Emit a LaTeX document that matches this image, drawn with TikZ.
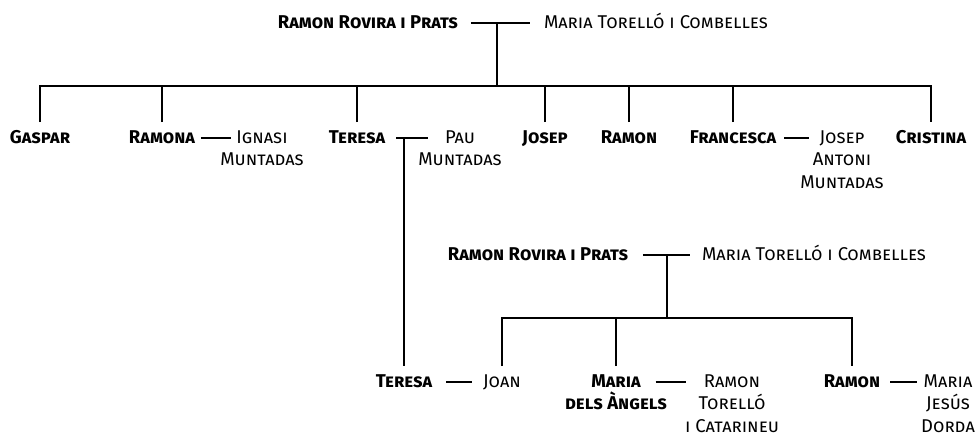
\documentclass[tikz,border=0pt]{standalone}
\usepackage{fontspec}
\setmainfont{Fira Sans}
\usetikzlibrary{positioning}

\begin{document}
\begin{tikzpicture}[x=1pt,y=-1pt,line width=1.8pt,node distance=11pt,
  boldname/.style={font=\fontsize{18.5}{22}\selectfont\bfseries\scshape,inner sep=0,text height=10pt,text depth=0pt},
  plainname/.style={font=\fontsize{18.5}{22}\selectfont\scshape,inner sep=0,text height=10pt,text depth=0pt}]
\useasboundingbox (0,0) rectangle (976,434);
% first family
\node[boldname] (ramon1) at (368,23) {Ramon Rovira i Prats};
\node[plainname] (maria1) at (656,23) {Maria Torelló i Combelles};
\coordinate (wed1) at (497,23);
\coordinate (kids1) at (497,86);
\node[boldname] (gaspar) at (40,138) {Gaspar};
\node[boldname] (ramona) at (162,138) {Ramona};
\node[plainname] (ignasi) at (262,138) {Ignasi};
\node[plainname,below=of ignasi] (ignasiB) {Muntadas};
\node[boldname] (teresa) at (357,138) {Teresa};
\node[plainname] (pau) at (460,138) {Pau};
\node[plainname,below=of pau] (pauB) {Muntadas};
\coordinate (wed2) at (404,138);
\node[boldname] (josep) at (545,138) {Josep};
\node[boldname] (ramon2) at (629,138) {Ramon};
\node[boldname] (francesca) at (733,138) {Francesca};
\node[plainname] (josepA) at (842,138) {Josep};
\node[plainname,below=of josepA] (josepB) {Antoni};
\node[plainname,below=of josepB] (josepC) {Muntadas};
\node[boldname] (cristina) at (931,138) {Cristina};
% second family
\node[boldname] (ramon3) at (538,255) {Ramon Rovira i Prats};
\node[plainname] (maria3) at (814,255) {Maria Torelló i Combelles};
\coordinate (wed3) at (667,255);
\coordinate (kids3) at (667,318);
\node[boldname] (teresa2) at (404,382) {Teresa};
\node[plainname] (joan) at (502,382) {Joan};
\node[boldname] (maria4) at (616,382) {Maria};
\node[boldname,below=of maria4] (maria4B) {dels Àngels};
\node[plainname] (ramon5) at (732,382) {Ramon};
\node[plainname,below=of ramon5] (ramon5B) {Torelló};
\node[plainname,below=of ramon5B] (ramon5C) {i Catarineu};
\node[boldname] (ramon4) at (852,382) {Ramon};
\node[plainname] (maria5) at (948,382) {Maria};
\node[plainname,below=of maria5] (maria5B) {Jesús};
\node[plainname,below=of maria5B] (maria5C) {Dorda};

% couples
\draw ([xshift=12pt]ramon1.east) -- ([xshift=-13pt]maria1.west);
\draw ([xshift=5pt]ramona.east) -- ([xshift=-4pt]ignasi.west);
\draw ([xshift=10pt]teresa.east) -- ([xshift=-16pt]pau.west);
\draw ([xshift=7pt]francesca.east) -- ([xshift=-10pt]josepA.west);
\draw ([xshift=14pt]ramon3.east) -- ([xshift=-11pt]maria3.west);
\draw ([xshift=13pt]teresa2.east) -- ([xshift=-10pt]joan.west);
\draw ([xshift=14pt]maria4.east) -- ([xshift=-17pt]ramon5.west);
\draw ([xshift=9pt]ramon4.east) -- ([xshift=-6pt]maria5.west);

% descent
\draw (wed1) -- (kids1);
\draw ([yshift=10pt]gaspar.north) |- (kids1) -| ([yshift=10pt]cristina.north);
\foreach \kid in {ramona,teresa,josep,ramon2,francesca}
  \draw ([yshift=10pt]\kid.north) -- (\kid.north |- kids1);
\draw (wed2) -- ([yshift=10pt]teresa2.north);
\draw (wed3) -- (kids3);
\draw ([yshift=10pt]joan.north) |- (kids3) -| ([yshift=10pt]ramon4.north);
\draw ([yshift=10pt]maria4.north) -- (maria4.north |- kids3);
\end{tikzpicture}
\end{document}
